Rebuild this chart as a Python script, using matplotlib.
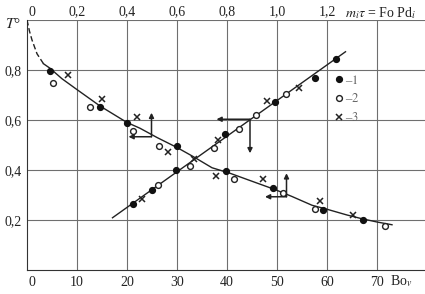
import matplotlib
matplotlib.use("Agg")
import matplotlib.pyplot as plt
import matplotlib.transforms as mtransforms
from matplotlib.ticker import FixedLocator, FuncFormatter

plt.rcParams['font.family'] = ['Liberation Serif', 'DejaVu Serif']
plt.rcParams['mathtext.fontset'] = 'stix'

# ----------------------------- Data -----------------------------

# falling curve T(Bo): dashed start, then solid
dash_bo = [0, 0.5, 1.0, 2.0, 3.3]
dash_t = [1.0, 0.955, 0.92, 0.865, 0.825]
fall_bo = [3.3, 4.6, 7, 9.9, 14.6, 20, 22.6, 26, 30, 33.3, 37, 40.6, 45, 49.7, 53, 57, 60, 64, 67, 70, 73]
fall_t = [0.825, 0.807, 0.765, 0.723, 0.656, 0.59, 0.567, 0.53, 0.49, 0.453, 0.409, 0.387, 0.355,
          0.321, 0.294, 0.259, 0.243, 0.22, 0.205, 0.192, 0.181]

# rising straight line (ends)
rise_bo = [17.1, 63.7]
rise_t = [0.209, 0.873]

# experimental points, series 1 (filled), 2 (open), 3 (cross)
s1_bo = [4.6, 14.5, 19.9, 29.9, 39.7, 49.1, 59.2, 67.2,
         21.1, 24.9, 29.8, 39.6, 49.5, 57.5, 61.7]
s1_t = [0.796, 0.653, 0.589, 0.495, 0.398, 0.329, 0.239, 0.199,
        0.265, 0.321, 0.401, 0.545, 0.673, 0.767, 0.844]
s2_bo = [5.1, 12.5, 21.1, 26.3, 41.3, 51.2, 57.5, 71.5,
         26.1, 32.5, 37.3, 42.4, 45.8, 51.8]
s2_t = [0.75, 0.653, 0.556, 0.497, 0.365, 0.308, 0.245, 0.175,
        0.339, 0.415, 0.488, 0.563, 0.62, 0.703]
s3_bo = [8.1, 14.9, 21.9, 28.1, 37.8, 47.1, 58.5, 65.2,
         22.9, 33.4, 38.2, 48.0, 54.3]
s3_t = [0.78, 0.683, 0.611, 0.473, 0.375, 0.363, 0.275, 0.221,
        0.283, 0.445, 0.52, 0.677, 0.729]

# guide arrows: (corner Bo, corner T, horizontal end Bo, vertical end T)
arrows = [(24.9, 0.533, 20.3, 0.629),
          (44.6, 0.603, 37.9, 0.467),
          (51.9, 0.293, 47.6, 0.387)]

bottom_ticks = [0, 10, 20, 30, 40, 50, 60, 70]
top_ticks = [0, 0.2, 0.4, 0.6, 0.8, 1.0, 1.2]
y_ticks = [0.2, 0.4, 0.6, 0.8]

# ----------------------------- Plot -----------------------------

fig = plt.figure(figsize=(4.25, 2.94), dpi=100)
ax = fig.add_axes([27 / 425, 24 / 294, 400 / 425, 250 / 294])
ax.set_xlim(0, 80)
ax.set_ylim(0, 1.0)

grid_c = '#6f6f6f'
for b in bottom_ticks[1:]:
    ax.axvline(b, color=grid_c, lw=0.8, zorder=1)
for t in y_ticks + [1.0]:
    ax.axhline(t, color=grid_c, lw=0.8, zorder=1)

for side in ['right', 'top']:
    ax.spines[side].set_visible(False)
ax.spines['left'].set_color('#333333')
ax.spines['bottom'].set_color('#333333')

ax.plot(dash_bo, dash_t, color='#222222', lw=1.0, linestyle=(0, (4, 2)), zorder=3)
ax.plot(fall_bo, fall_t, color='#222222', lw=1.0, zorder=3)
ax.plot(rise_bo, rise_t, color='#222222', lw=1.0, zorder=3)

h1, = ax.plot(s1_bo, s1_t, 'o', ms=4.2, color='#111111', ls='none', zorder=4)
h2, = ax.plot(s2_bo, s2_t, 'o', ms=4.2, mfc='white', mec='#222222', mew=1.0, ls='none', zorder=4)
h3, = ax.plot(s3_bo, s3_t, 'x', ms=4.2, color='#222222', mew=1.1, ls='none', zorder=4)

for cb, ct, hb, vt in arrows:
    ax.annotate('', xy=(hb, ct), xytext=(cb, ct),
                arrowprops=dict(arrowstyle='-|>', color='#222222', lw=1.1,
                                mutation_scale=7, shrinkA=0, shrinkB=0), zorder=5)
    ax.annotate('', xy=(cb, vt), xytext=(cb, ct),
                arrowprops=dict(arrowstyle='-|>', color='#222222', lw=1.1,
                                mutation_scale=7, shrinkA=0, shrinkB=0), zorder=5)

# ticks and labels
ax.xaxis.set_major_locator(FixedLocator(bottom_ticks))
ax.yaxis.set_major_locator(FixedLocator(y_ticks))
ax.yaxis.set_major_formatter(FuncFormatter(lambda v, p: f'{v:.1f}'.replace('.', ',')))
ax.tick_params(axis='both', length=0, labelsize=10, colors='#222222')
ax.tick_params(axis='x', pad=4)
ax.tick_params(axis='y', pad=4)

top = ax.secondary_xaxis('top', functions=(lambda x: x / 50, lambda m: m * 50))
top.set_xticks(top_ticks)
top.xaxis.set_major_formatter(FuncFormatter(lambda v, p: '0' if v == 0 else f'{v:.1f}'.replace('.', ',')))
top.tick_params(length=0, labelsize=10, pad=1, colors='#222222')
top.spines['top'].set_visible(False)

# the "0" labels sit a little right of the axis line
shift = mtransforms.ScaledTranslation(5 / 100, 0, fig.dpi_scale_trans)
for lab in [ax.get_xticklabels()[0], top.get_xticklabels()[0]]:
    lab.set_transform(lab.get_transform() + shift)

fig.text(5 / 425, 1 - 24 / 294, r'$T$°', fontsize=11, va='center', ha='left', color='#222222')
fig.text(345 / 425, 1 - 13 / 294, r'$m_i\tau$ = Fo Pd$_i$', fontsize=10, va='center', ha='left',
         color='#222222')
fig.text(390 / 425, 1 - 281 / 294, r'Bo$_v$', fontsize=10, va='center', ha='left', color='#222222')

leg = ax.legend([h1, h2, h3], ['–$\\mathit{1}$', '–$\\mathit{2}$', '–$\\mathit{3}$'],
                loc='upper left', bbox_to_anchor=(0.77, 0.785), frameon=False,
                handlelength=0.6, handletextpad=0.2, labelspacing=0.45, fontsize=9,
                borderaxespad=0, borderpad=0)
for txt in leg.get_texts():
    txt.set_color('#666666')

fig.savefig('out.png', dpi=100)
